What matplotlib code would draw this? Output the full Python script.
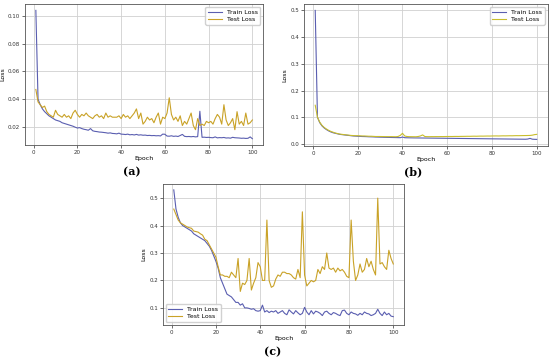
import numpy as np
import matplotlib
matplotlib.use('Agg')
import matplotlib.pyplot as plt

## Data (epochs 1..100)
epochs = list(range(1, 101))

train_a = [0.104, 0.040, 0.036, 0.033, 0.031, 0.0295, 0.028, 0.027, 0.026, 0.025,
           0.0245, 0.024, 0.023, 0.0225, 0.022, 0.0215, 0.021, 0.0205, 0.0198, 0.0192,
           0.0195, 0.0188, 0.0183, 0.018, 0.0176, 0.0188, 0.0172, 0.0168, 0.0166, 0.0163,
           0.0162, 0.016, 0.0158, 0.0155, 0.0157, 0.0153, 0.0152, 0.015, 0.0155, 0.0148,
           0.0147, 0.0145, 0.0148, 0.0143, 0.0145, 0.0142, 0.0146, 0.0141, 0.0143, 0.014,
           0.0141, 0.0138, 0.0139, 0.0137, 0.0138, 0.0136, 0.0137, 0.0135, 0.0148, 0.0147,
           0.0134, 0.0133, 0.0136, 0.0132, 0.0134, 0.0131, 0.0138, 0.0146, 0.0132, 0.013,
           0.0131, 0.0129, 0.0131, 0.0128, 0.013, 0.0313, 0.0125, 0.0126, 0.0124, 0.0125,
           0.0123, 0.0122, 0.0128, 0.0121, 0.0123, 0.0122, 0.0124, 0.012, 0.0121, 0.0119,
           0.0125, 0.0122, 0.0121, 0.012, 0.0118, 0.0119, 0.0117, 0.0118, 0.0128, 0.0115]
test_a = [0.047, 0.038, 0.036, 0.034, 0.035, 0.031, 0.029, 0.028, 0.027, 0.032,
          0.029, 0.028, 0.027, 0.029, 0.027, 0.028, 0.026, 0.030, 0.032, 0.029,
          0.027, 0.029, 0.028, 0.030, 0.028, 0.027, 0.026, 0.028, 0.029, 0.027,
          0.028, 0.026, 0.030, 0.027, 0.028, 0.027, 0.027, 0.027, 0.028, 0.026,
          0.029, 0.027, 0.028, 0.026, 0.028, 0.030, 0.033, 0.026, 0.030, 0.022,
          0.024, 0.027, 0.025, 0.026, 0.023, 0.027, 0.030, 0.022, 0.027, 0.026,
          0.030, 0.041, 0.029, 0.025, 0.027, 0.024, 0.028, 0.021, 0.024, 0.022,
          0.026, 0.030, 0.021, 0.018, 0.026, 0.021, 0.022, 0.021, 0.024, 0.023,
          0.024, 0.022, 0.026, 0.029, 0.027, 0.022, 0.036, 0.025, 0.021, 0.023,
          0.026, 0.018, 0.031, 0.022, 0.024, 0.021, 0.030, 0.022, 0.023, 0.025]

train_b = [0.500, 0.100, 0.080, 0.068, 0.060, 0.054, 0.049, 0.045, 0.042, 0.040,
           0.038, 0.036, 0.035, 0.034, 0.033, 0.032, 0.031, 0.030, 0.0295, 0.029,
           0.0285, 0.028, 0.0278, 0.0275, 0.027, 0.0268, 0.0265, 0.026, 0.0258, 0.0255,
           0.0253, 0.025, 0.0248, 0.0246, 0.0244, 0.0242, 0.024, 0.0238, 0.0236, 0.026,
           0.0235, 0.0233, 0.0231, 0.023, 0.0228, 0.0227, 0.0226, 0.0225, 0.0224, 0.0223,
           0.0222, 0.0221, 0.022, 0.0219, 0.0218, 0.0217, 0.0216, 0.0215, 0.0214, 0.0213,
           0.0212, 0.0211, 0.021, 0.0209, 0.0208, 0.0207, 0.0206, 0.0205, 0.0204, 0.0203,
           0.0202, 0.0201, 0.020, 0.0199, 0.0198, 0.0197, 0.0196, 0.0195, 0.0194, 0.0193,
           0.0192, 0.0191, 0.019, 0.0189, 0.0188, 0.0187, 0.0186, 0.0185, 0.0184, 0.0183,
           0.0182, 0.0181, 0.018, 0.0179, 0.0178, 0.0185, 0.021, 0.018, 0.0175, 0.0172]
test_b = [0.145, 0.100, 0.082, 0.070, 0.062, 0.056, 0.051, 0.047, 0.044, 0.041,
          0.039, 0.037, 0.036, 0.035, 0.034, 0.033, 0.032, 0.0315, 0.031, 0.031,
          0.0305, 0.030, 0.030, 0.0295, 0.029, 0.029, 0.0285, 0.028, 0.028, 0.028,
          0.0278, 0.0276, 0.0275, 0.0274, 0.0275, 0.0273, 0.0272, 0.028, 0.032, 0.040,
          0.030, 0.028, 0.0275, 0.0273, 0.0272, 0.0271, 0.028, 0.030, 0.034, 0.028,
          0.0275, 0.0274, 0.0276, 0.0275, 0.0277, 0.0276, 0.0278, 0.0277, 0.0279, 0.028,
          0.0281, 0.028, 0.0282, 0.0283, 0.0282, 0.0284, 0.0285, 0.0286, 0.0288, 0.0287,
          0.029, 0.0292, 0.029, 0.0293, 0.0295, 0.0294, 0.0296, 0.0298, 0.0297, 0.030,
          0.0301, 0.0302, 0.030, 0.0303, 0.0305, 0.0304, 0.0306, 0.0308, 0.0307, 0.031,
          0.0312, 0.0311, 0.0313, 0.0315, 0.0316, 0.0318, 0.032, 0.033, 0.035, 0.036]

train_c = [0.530, 0.460, 0.430, 0.410, 0.400, 0.395, 0.390, 0.385, 0.380, 0.370,
           0.365, 0.360, 0.355, 0.350, 0.345, 0.335, 0.325, 0.310, 0.290, 0.270,
           0.245, 0.210, 0.190, 0.170, 0.150, 0.145, 0.140, 0.130, 0.120, 0.120,
           0.110, 0.115, 0.100, 0.100, 0.098, 0.095, 0.097, 0.090, 0.088, 0.090,
           0.110, 0.085, 0.090, 0.083, 0.088, 0.085, 0.090, 0.080, 0.085, 0.090,
           0.080, 0.075, 0.093, 0.085, 0.078, 0.090, 0.082, 0.075, 0.080, 0.102,
           0.085, 0.075, 0.090, 0.078, 0.088, 0.085, 0.080, 0.072, 0.085, 0.088,
           0.080, 0.075, 0.083, 0.080, 0.075, 0.072, 0.090, 0.092, 0.080, 0.075,
           0.085, 0.080, 0.078, 0.073, 0.080, 0.075, 0.085, 0.080, 0.078, 0.072,
           0.075, 0.080, 0.095, 0.080, 0.072, 0.085, 0.075, 0.080, 0.070, 0.068]
test_c = [0.460, 0.440, 0.420, 0.410, 0.405, 0.400, 0.395, 0.392, 0.390, 0.380,
          0.378, 0.376, 0.370, 0.365, 0.350, 0.345, 0.330, 0.315, 0.300, 0.285,
          0.250, 0.220, 0.220, 0.215, 0.215, 0.210, 0.230, 0.220, 0.210, 0.280,
          0.160, 0.190, 0.185, 0.200, 0.280, 0.165, 0.190, 0.210, 0.265, 0.250,
          0.200, 0.200, 0.420, 0.200, 0.175, 0.180, 0.205, 0.220, 0.215, 0.230,
          0.230, 0.225, 0.225, 0.220, 0.210, 0.205, 0.240, 0.210, 0.450, 0.220,
          0.180, 0.190, 0.200, 0.195, 0.200, 0.240, 0.225, 0.250, 0.240, 0.300,
          0.245, 0.240, 0.245, 0.230, 0.245, 0.235, 0.240, 0.230, 0.215, 0.210,
          0.420, 0.270, 0.200, 0.220, 0.260, 0.230, 0.240, 0.280, 0.250, 0.270,
          0.240, 0.220, 0.500, 0.260, 0.265, 0.250, 0.240, 0.310, 0.280, 0.260]

train_color = '#5a5eb0'
test_color = '#c9a227'
test_color_b = '#c8bd2c'

fig = plt.figure(figsize=(5.5, 3.61), dpi=100)

def loss_panel(rect, train, test, tcol, legend_loc):
    ax = fig.add_axes(rect)
    ax.plot(epochs, train, color=train_color, lw=0.8, label='Train Loss')
    ax.plot(epochs, test, color=tcol, lw=0.8, label='Test Loss')
    ax.grid(True, color='#d0d0d0', lw=0.6)
    ax.set_xlabel('Epoch', fontsize=4.5, labelpad=1)
    ax.set_ylabel('Loss', fontsize=4.5, labelpad=2)
    ax.tick_params(labelsize=4, length=2, width=0.5, pad=1.5, colors='#333333')
    for s in ax.spines.values():
        s.set_linewidth(0.6)
        s.set_color('#555555')
    ax.legend(loc=legend_loc, fontsize=4.5, frameon=True, handlelength=2.2,
              borderpad=0.4, labelspacing=0.3, framealpha=0.9)
    return ax

ax_a = loss_panel([0.0455, 0.598, 0.433, 0.391], train_a, test_a, test_color, 'upper right')
ax_b = loss_panel([0.553, 0.596, 0.443, 0.393], train_b, test_b, test_color_b, 'upper right')
ax_c = loss_panel([0.296, 0.100, 0.439, 0.390], train_c, test_c, test_color, 'lower left')
ax_c.set_ylim(0.038, 0.551)

lab = dict(fontsize=8, family='DejaVu Serif', ha='center', va='center')
fig.text(0.240, 0.524, '(a)', **lab)
fig.text(0.751, 0.524, '(b)', **lab)
fig.text(0.496, 0.025, '(c)', **lab)
for t in fig.texts:
    t.set_fontweight('bold')

plt.savefig('out.png', dpi=100)
